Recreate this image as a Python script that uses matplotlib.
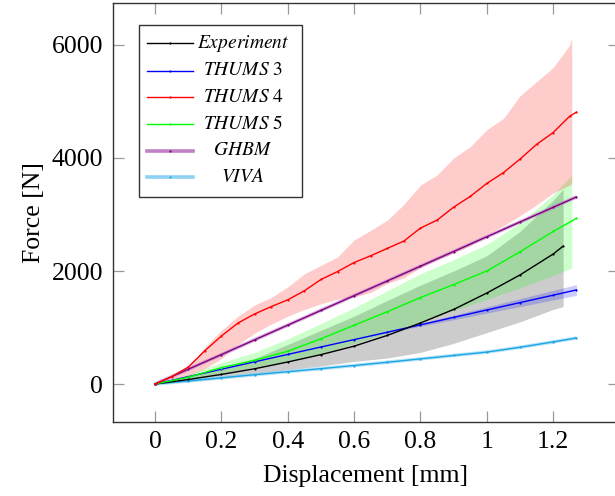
import matplotlib
matplotlib.use("Agg")
import matplotlib.pyplot as plt
from matplotlib.lines import Line2D
from matplotlib.patches import Rectangle

plt.rcParams['font.family'] = ['Liberation Serif', 'DejaVu Serif']
plt.rcParams['mathtext.fontset'] = 'stix'

# ---------------- data ----------------
# Experiment (mean + corridor)
x_exp = [0, 0.1, 0.2, 0.3, 0.4, 0.5, 0.6, 0.7, 0.8, 0.9, 1.0, 1.1, 1.2, 1.23]
y_exp = [0, 80, 170, 270, 390, 520, 670, 860, 1080, 1320, 1610, 1930, 2300, 2440]
exp_hi = [0, 130, 280, 450, 700, 950, 1200, 1480, 1750, 2000, 2270, 2700, 3250, 3450]
exp_lo = [0, 40, 100, 170, 250, 320, 400, 460, 560, 720, 910, 1100, 1320, 1370]

# THUMS 3
x_t3 = [0, 0.1, 0.2, 0.3, 0.4, 0.5, 0.6, 0.7, 0.8, 0.9, 1.0, 1.1, 1.2, 1.27]
y_t3 = [0, 130, 262, 393, 524, 655, 786, 917, 1048, 1179, 1310, 1441, 1572, 1665]
t3_band = [0, 0, 0, 0, 0, 0, 0, 10, 25, 40, 55, 70, 85, 95]

# THUMS 4
x_t4 = [0, 0.05, 0.1, 0.15, 0.2, 0.25, 0.3, 0.35, 0.4, 0.45, 0.5, 0.55, 0.6, 0.65,
        0.7, 0.75, 0.8, 0.85, 0.9, 0.95, 1.0, 1.05, 1.1, 1.15, 1.2, 1.25, 1.27]
y_t4 = [0, 130, 300, 590, 850, 1080, 1240, 1370, 1490, 1650, 1850, 1990, 2150, 2270,
        2400, 2530, 2760, 2900, 3130, 3320, 3550, 3740, 3980, 4240, 4450, 4740, 4810]
x_t4b = [0, 0.05, 0.1, 0.15, 0.2, 0.25, 0.3, 0.35, 0.4, 0.45, 0.5, 0.55, 0.6, 0.65,
         0.7, 0.75, 0.8, 0.85, 0.9, 0.95, 1.0, 1.05, 1.1, 1.15, 1.2, 1.25, 1.256]
t4_hi = [0, 100, 300, 650, 950, 1200, 1400, 1530, 1720, 1950, 2100, 2250, 2550, 2720,
         2900, 3180, 3520, 3700, 4000, 4200, 4500, 4700, 5100, 5350, 5600, 6000, 6130]
t4_lo = [0, 50, 150, 270, 450, 700, 900, 1060, 1200, 1320, 1420, 1500, 1540, 1620,
         1780, 1880, 2060, 2200, 2320, 2450, 2650, 2800, 2980, 3170, 3380, 3520, 3550]

# THUMS 5
x_t5 = [0, 0.1, 0.2, 0.3, 0.4, 0.5, 0.6, 0.7, 0.8, 0.9, 1.0, 1.1, 1.2, 1.27]
y_t5 = [0, 120, 290, 420, 580, 800, 1040, 1280, 1530, 1760, 2000, 2340, 2700, 2930]
x_t5b = [0, 0.1, 0.2, 0.3, 0.4, 0.5, 0.6, 0.7, 0.8, 0.9, 1.0, 1.1, 1.2, 1.256]
t5_hi = [0, 170, 380, 560, 800, 1070, 1350, 1650, 1950, 2200, 2470, 2850, 3350, 3700]
t5_lo = [0, 80, 200, 300, 400, 540, 720, 900, 1100, 1300, 1500, 1700, 1920, 2050]

# GHBM
x_gh = [0, 0.1, 0.2, 0.3, 0.4, 0.5, 0.6, 0.7, 0.8, 0.9, 1.0, 1.1, 1.2, 1.27]
y_gh = [0, 261, 521, 782, 1042, 1303, 1564, 1824, 2085, 2345, 2606, 2867, 3127, 3310]

# VIVA
x_vi = [0, 0.1, 0.2, 0.3, 0.4, 0.5, 0.6, 0.7, 0.8, 0.9, 1.0, 1.1, 1.2, 1.27]
y_vi = [0, 55, 110, 165, 218, 272, 327, 385, 445, 505, 565, 650, 745, 815]

labels = [r'$Experiment$', r'$THUMS\ 3$', r'$THUMS\ 4$', r'$THUMS\ 5$', r'$GHBM$', r'$VIVA$']
x_ticks = [0, 0.2, 0.4, 0.6, 0.8, 1.0, 1.2]
x_ticklabels = ['0', '0.2', '0.4', '0.6', '0.8', '1', '1.2']
y_ticks = [0, 2000, 4000, 6000]

# ---------------- colours ----------------
C_EXP = 'black'
C_T3 = '#0000ff'
C_T4 = '#ff0000'
C_T5 = '#00ff00'
C_GH = '#800080'
C_VI = '#19a5e6'
C_GH_L = '#bf80c4'
C_VI_L = '#8dd2f2'

fig = plt.figure(figsize=(6.15, 4.96), dpi=100)
ax = fig.add_axes([113/615, (496-421.7)/496, (618.5-113)/615, (421.7-3)/496])

# bands
ax.fill_between(x_exp, exp_lo, exp_hi, color='black', alpha=0.2, lw=0)
ax.fill_between(x_t5b, t5_lo, t5_hi, color=C_T5, alpha=0.2, lw=0)
ax.fill_between(x_t4b, t4_lo, t4_hi, color=C_T4, alpha=0.2, lw=0)
ax.fill_between(x_t3, [a - b for a, b in zip(y_t3, t3_band)],
                [a + b for a, b in zip(y_t3, t3_band)], color=C_T3, alpha=0.2, lw=0)

# lines
ms = 1.6
ax.plot(x_gh, y_gh, color=C_GH_L, lw=2.6, alpha=0.6, solid_capstyle='butt')
ax.plot(x_vi, y_vi, color=C_VI_L, lw=2.6, alpha=0.6, solid_capstyle='butt')
ax.plot(x_vi, y_vi, color=C_VI, lw=1.0, marker='o', ms=ms, mew=0)
ax.plot(x_t3, y_t3, color=C_T3, lw=1.0, marker='o', ms=ms, mew=0)
ax.plot(x_exp, y_exp, color=C_EXP, lw=1.0, marker='o', ms=ms, mew=0)
ax.plot(x_t5, y_t5, color=C_T5, lw=1.0, marker='o', ms=ms, mew=0)
ax.plot(x_gh, y_gh, color=C_GH, lw=1.0, marker='o', ms=ms, mew=0)
ax.plot(x_t4, y_t4, color=C_T4, lw=1.0, marker='o', ms=ms, mew=0)

ax.set_xlim(-0.127, 1.397)
ax.set_ylim(-667, 6743)
ax.set_xticks(x_ticks)
ax.set_xticklabels(x_ticklabels)
ax.set_yticks(y_ticks)

for s in ax.spines.values():
    s.set_color('#333333')
    s.set_linewidth(1.0)
ax.tick_params(direction='in', length=8, width=0.9, color='#999999',
               top=True, right=True, labelsize=18.5, pad=7)
ax.set_xlabel('Displacement [mm]', fontsize=18.5, labelpad=8)
ax.set_ylabel('Force [N]', fontsize=18.5, labelpad=5)

# legend (drawn manually, centred text as in the reference)
leg_l, leg_r = 139/615, 301.7/615
fig.add_artist(Rectangle((leg_l, (496-196.7)/496), leg_r-leg_l, (196.7-25)/496,
                         transform=fig.transFigure, facecolor='white',
                         edgecolor='#333333', lw=1.0, zorder=10))
ys = [43.3, 70.7, 97.3, 124, 150.7, 177.3]
lcols = [C_EXP, C_T3, C_T4, C_T5, C_GH_L, C_VI_L]
mcols = [C_EXP, C_T3, C_T4, C_T5, C_GH, C_VI]
lws = [1.0, 1.0, 1.0, 1.0, 2.6, 2.6]
for yy, lab, lc, mc, lw in zip(ys, labels, lcols, mcols, lws):
    yf = (496 - yy) / 496
    fig.add_artist(Line2D([147.3/615, 192.7/615], [yf, yf], transform=fig.transFigure,
                          color=lc, lw=lw, zorder=11))
    fig.add_artist(Line2D([170/615], [yf], transform=fig.transFigure, color=mc,
                          marker='o', ms=ms, mew=0, zorder=12))
    fig.text(243/615, yf, lab, ha='center', va='center', fontsize=14, zorder=12)

fig.savefig('out.png', dpi=100)
